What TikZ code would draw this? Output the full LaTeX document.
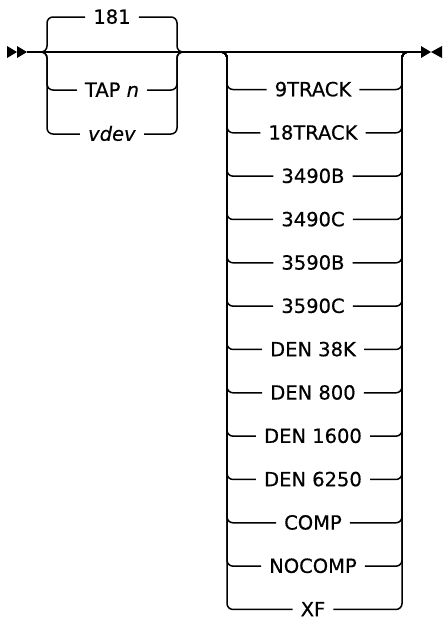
\documentclass[tikz,border=0pt]{standalone}
\usepackage{fontspec}
\setmainfont{DejaVu Sans}[FakeBold=0.5]
\usetikzlibrary{positioning}

\begin{document}
\begin{tikzpicture}[x=1pt, y=-1pt,
  rail/.style={line width=1.5pt, rounded corners=6pt},
  choice/.style={inner ysep=0pt, inner xsep=8pt, text height=13.5pt, text depth=0pt,
    font=\fontsize{19.5}{22}\selectfont}
]
\useasboundingbox (0,0) rectangle (443,619);

% Rails and junctions
\coordinate (start) at (27,52);
\coordinate (stop) at (421,52);
\coordinate (g1in) at (40,52);
\coordinate (g1out) at (184,52);
\coordinate (l1) at (47,0);
\coordinate (r1) at (177,0);
\coordinate (g2in) at (220,52);
\coordinate (g2out) at (409,52);
\coordinate (l2) at (227,0);
\coordinate (r2) at (402,0);

% Entry and exit marks
\fill (7,46) -- (17,52) -- (7,58) -- cycle;
\fill (17,46) -- (27,52) -- (17,58) -- cycle;
\fill (421,46) -- (431,52) -- (421,58) -- cycle;
\fill (442,46) -- (431,52) -- (442,58) -- cycle;

% Main line
\draw[rail] (start) -- (stop);

% Device address
\node[choice] (dflt) at (112,17) {181};
\node[choice] (tap) at (112,90) {TAP \textit{n}};
\node[choice] (vdev) at (112,134) {\textit{vdev}};
\foreach \n in {dflt,tap,vdev} {
  \draw[rail] (g1in) -| (l1 |- \n) -- (\n.west);
  \draw[rail] (\n.east) -| (r1 |- g1out) -- (g1out);
}

% Tape options
\foreach \lbl [count=\i from 0] in {9TRACK,18TRACK,3490B,3490C,3590B,3590C,DEN 38K,DEN 800,DEN 1600,DEN 6250,COMP,NOCOMP,XF} {
  \node[choice] (opt\i) at (313,89.5+43.33*\i) {\lbl};
  \draw[rail] (g2in) -| (l2 |- opt\i) -- (opt\i.west);
  \draw[rail] (opt\i.east) -| (r2 |- g2out) -- (g2out);
}

\end{tikzpicture}
\end{document}
